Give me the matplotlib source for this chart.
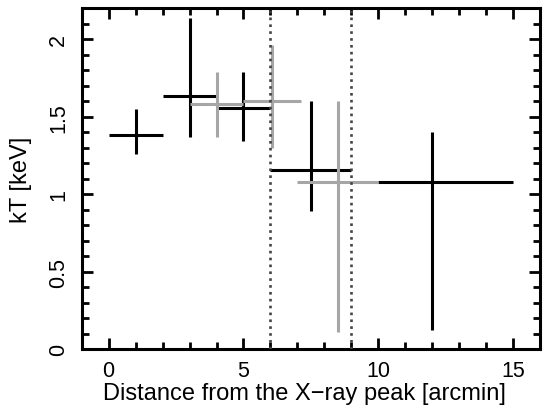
import numpy as np
import matplotlib.pyplot as plt
from matplotlib.ticker import MultipleLocator

plt.rcParams['font.family'] = ['Liberation Sans', 'DejaVu Sans']

# black data set: bin centre, bin edges, kT and error range
blk_x = [1.0, 3.0, 5.0, 7.5, 12.0]
blk_xlo = [0.0, 2.0, 4.0, 6.0, 10.0]
blk_xhi = [2.0, 4.0, 6.0, 9.0, 15.0]
blk_kt = [1.38, 1.635, 1.555, 1.155, 1.08]
blk_lo = [1.26, 1.37, 1.34, 0.89, 0.12]
blk_hi = [1.55, 2.14, 1.79, 1.60, 1.40]

# grey data set
gry_x = [4.0, 6.07, 8.5]
gry_xlo = [3.0, 5.0, 7.0]
gry_xhi = [5.0, 7.14, 10.0]
gry_kt = [1.58, 1.60, 1.08]
gry_lo = [1.37, 1.30, 0.11]
gry_hi = [1.79, 1.96, 1.60]

region_edges = [6, 9]


def errs(c, lo, hi):
    c, lo, hi = np.array(c), np.array(lo), np.array(hi)
    return [c - lo, hi - c]


fig = plt.figure(figsize=(5.5, 4.14), dpi=100)
ax = fig.add_axes([0.1485, 0.1546, 0.8335, 0.823])

ax.errorbar(blk_x, blk_kt, xerr=errs(blk_x, blk_xlo, blk_xhi),
            yerr=errs(blk_kt, blk_lo, blk_hi),
            fmt='none', ecolor='black', elinewidth=2.2, capsize=0, zorder=2)
ax.errorbar(gry_x, gry_kt, xerr=errs(gry_x, gry_xlo, gry_xhi),
            yerr=errs(gry_kt, gry_lo, gry_hi),
            fmt='none', ecolor='#a6a6a6', elinewidth=2.2, capsize=0, zorder=3)

for xv in region_edges:
    ax.axvline(xv, color='#444444', linestyle=(0, (1, 1.6)), linewidth=1.9, zorder=4)

ax.set_xlim(-1, 16)
ax.set_ylim(0, 2.2)
ax.xaxis.set_major_locator(MultipleLocator(5))
ax.xaxis.set_minor_locator(MultipleLocator(1))
ax.yaxis.set_major_locator(MultipleLocator(0.5))
ax.yaxis.set_minor_locator(MultipleLocator(0.1))
ax.set_yticks([0, 0.5, 1, 1.5, 2])
ax.set_yticklabels(['0', '0.5', '1', '1.5', '2'], rotation=90, va='center')

ax.tick_params(which='both', direction='in', top=True, right=True,
               width=2, labelsize=15.5)
ax.tick_params(which='major', length=8, pad=8)
ax.tick_params(which='minor', length=5)
ax.tick_params(axis='y', which='major', pad=9)
for sp in ax.spines.values():
    sp.set_linewidth(2.2)

ax.set_xlabel('Distance from the X\u2212ray peak [arcmin]', fontsize=17, labelpad=1)
ax.xaxis.label.set_x(0.486)
ax.set_ylabel('kT [keV]', fontsize=17, labelpad=12)

fig.savefig('out.png', dpi=100)
